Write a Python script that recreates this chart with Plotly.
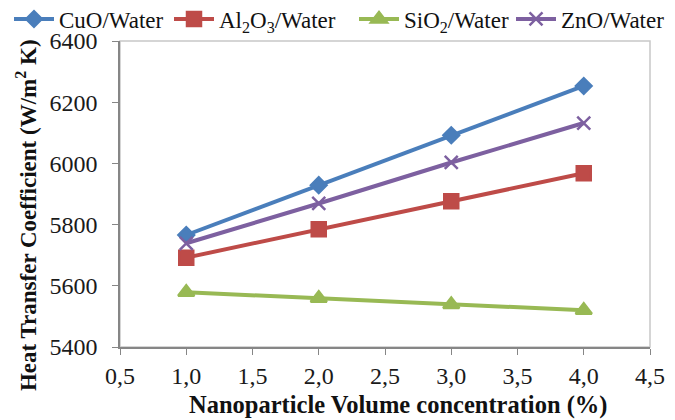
import plotly.graph_objects as go

concentration = [1.0, 2.0, 3.0, 4.0]
cuo_water = [5766, 5929, 6092, 6253]
al2o3_water = [5692, 5785, 5876, 5968]
sio2_water = [5579, 5559, 5539, 5520]
zno_water = [5739, 5869, 6003, 6132]

x_title = "<b>Nanoparticle Volume concentration (%)</b>"
y_title = "<b>Heat Transfer Coefficient (W/m<sup>2</sup> K)</b>"

series = [
    ("CuO/Water", cuo_water, "#4a7ebb", "diamond", 12, "legend"),
    ("Al<sub>2</sub>O<sub>3</sub>/Water", al2o3_water, "#be4b48", "square", 14, "legend2"),
    ("SiO<sub>2</sub>/Water", sio2_water, "#98b954", "triangle-up", 14, "legend3"),
    ("ZnO/Water", zno_water, "#7d60a0", "x-thin", 13, "legend4"),
]
legend_x_px = [1, 161, 346, 503]

font_family = "Liberation Serif"
# the page body adds an 8px margin, so the figure is drawn 8px smaller
W, H = 667, 412

fig = go.Figure()
for name, vals, color, sym, size, lg in series:
    fig.add_trace(go.Scatter(
        x=concentration, y=vals, name=name, mode="lines+markers", legend=lg,
        line=dict(color=color, width=4),
        marker=dict(symbol=sym, size=size, color=color,
                    line=dict(color=color, width=2.5)),
    ))

legend_common = dict(orientation="h", xref="container", yref="container",
                     yanchor="middle", xanchor="left", y=1 - 11 / H,
                     font=dict(size=23, family=font_family, color="#111"),
                     itemwidth=40, bgcolor="rgba(0,0,0,0)")
legends = {}
for (name, vals, color, sym, size, lg), xp in zip(series, legend_x_px):
    legends[lg] = dict(legend_common, x=xp / W)

fig.update_layout(
    width=W, height=H,
    margin=dict(l=112, r=25, t=33, b=73, autoexpand=False),
    paper_bgcolor="white", plot_bgcolor="white",
    separators=",.",
    font=dict(family=font_family, size=24, color="#1a1a1a"),
    showlegend=True,
    shapes=[dict(type="rect", xref="paper", yref="paper", x0=0, x1=1, y0=0, y1=1,
                 line=dict(color="#c8c8c8", width=1.5), layer="below")],
    annotations=[
        dict(text=x_title, xref="paper", yref="paper", x=0.526, y=0, yshift=-58,
             xanchor="center", yanchor="middle", showarrow=False,
             font=dict(size=24.5, family=font_family, color="#111")),
        dict(text=y_title, xref="paper", yref="paper", x=0, xshift=-94, y=0.431,
             xanchor="center", yanchor="middle", textangle=-90, showarrow=False,
             font=dict(size=23, family=font_family, color="#111")),
    ],
    **legends,
)
fig.update_xaxes(
    range=[0.5, 4.5], dtick=0.5, tick0=0.5, tickformat=".1f",
    showgrid=False, zeroline=False, automargin=False,
    showline=True, linecolor="#868686", linewidth=1.5,
    ticks="outside", ticklen=6, tickcolor="#868686",
    tickfont=dict(size=24, family=font_family, color="#1a1a1a"),
)
fig.update_yaxes(
    range=[5400, 6400], dtick=200, tickformat="d",
    showgrid=False, zeroline=False, automargin=False,
    showline=True, linecolor="#868686", linewidth=1.5,
    ticks="outside", ticklen=6, tickcolor="#868686", ticklabelstandoff=10,
    tickfont=dict(size=24, family=font_family, color="#1a1a1a"),
)

fig.write_html("out.html")
